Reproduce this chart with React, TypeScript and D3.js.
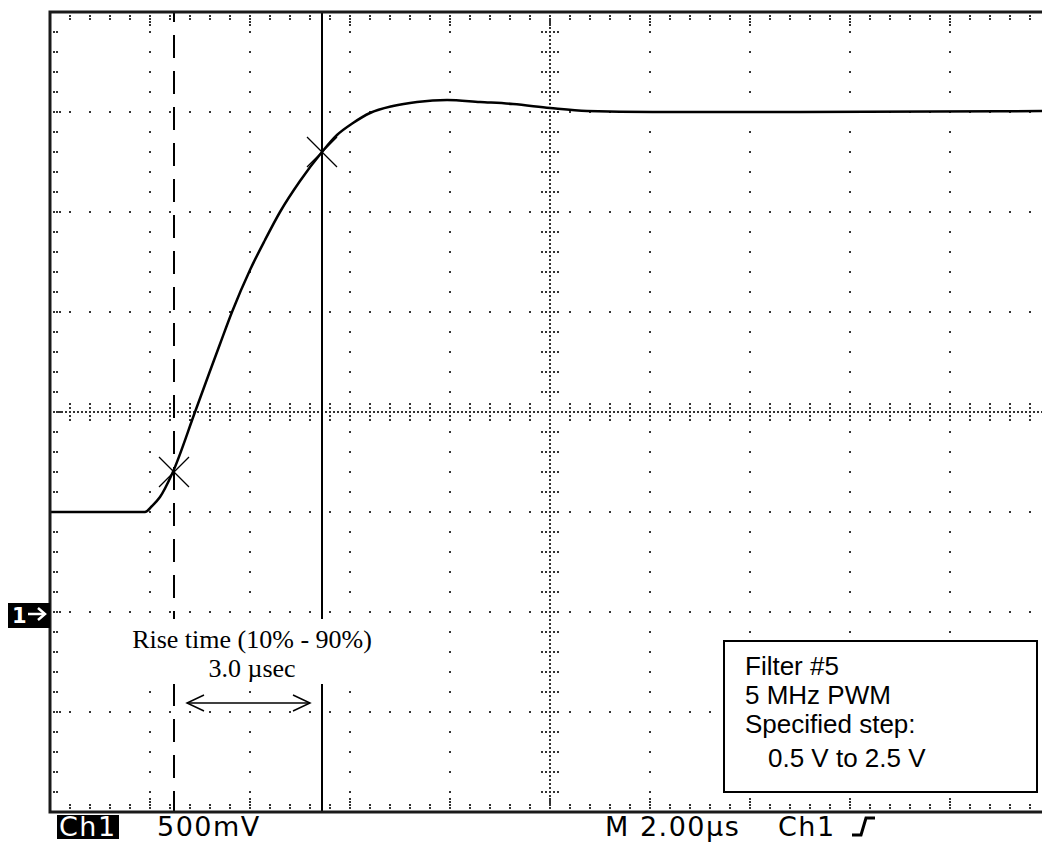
import React from "react";
import * as d3 from "d3";

const timeUs = [0, 1.9, 2.04, 2.2, 2.44, 2.9, 3.2, 3.4, 3.64, 4.0, 4.3, 4.6, 5.0, 5.44, 5.74, 6.06, 6.4, 6.86, 7.34, 7.94, 8.6, 9.26, 10.0, 10.74, 12.06, 15.0, 20.0];
const volts = [0.5, 0.5, 0.53, 0.575, 0.69, 1.0, 1.205, 1.34, 1.5, 1.71, 1.86, 2.0, 2.155, 2.3, 2.385, 2.445, 2.495, 2.53, 2.55, 2.56, 2.55, 2.54, 2.52, 2.505, 2.5, 2.5, 2.505];
const cursorTimes = [2.48, 5.44]; // 10% and 90% cursors (µs)
const cursorLevels = [0.7, 2.3]; // 10% and 90% levels (V)
const annotationLines = ["Rise time (10% - 90%)", "3.0 \u00b5sec"];
const legendLines = ["Filter #5", "5 MHz PWM", "Specified step:", "0.5 V to 2.5 V"];
const bottomLabels = ["Ch1", "500mV", "M 2.00\u00b5s", "Ch1"];

const W = 1042;
const H = 842;

export default function App() {
  const x = d3.scaleLinear().domain([0, 20]).range([50, 1050]);
  const y = d3.scaleLinear().domain([-1, 3]).range([812, 12]);

  const majorT = d3.range(0, 20.001, 2);
  const majorV = d3.range(-1, 3.001, 0.5);
  const minorT = d3.range(0, 20.001, 0.4);
  const minorV = d3.range(-1, 3.001, 0.1);
  const fineT = d3.range(0, 20.001, 0.08);
  const fineV = d3.range(-1, 3.001, 0.02);

  const dots: { cx: number; cy: number }[] = [];
  const add = (cx: number, cy: number) => dots.push({ cx, cy });

  majorT.slice(1, -1).forEach((t) => {
    if (t === 10) return;
    minorV.forEach((v) => add(x(t), y(v)));
  });
  majorV.slice(1, -1).forEach((v) => {
    if (v === 1) return;
    minorT.forEach((t) => add(x(t), y(v)));
  });
  fineV.forEach((v) => add(x(10), y(v)));
  fineT.forEach((t) => add(x(t), y(1)));
  minorV.forEach((v) => [-8, -4, 4, 8].forEach((o) => add(x(10) + o, y(v))));
  minorT.forEach((t) => [-8, -4, 4, 8].forEach((o) => add(x(t), y(1) + o)));
  minorT.forEach((t, i) => {
    const n = i % 5 === 0 ? 4 : 2;
    for (let k = 1; k <= n; k++) {
      add(x(t), y(3) + 1 + k * 3);
      add(x(t), y(-1) - 1 - k * 3);
    }
  });
  minorV.forEach((v, i) => {
    const n = i % 5 === 0 ? 3 : 2;
    for (let k = 1; k <= n; k++) add(x(0) + 1 + k * 3, y(v));
  });

  const line = d3
    .line<number>()
    .x((_, i) => x(timeUs[i]))
    .y((v) => y(v))
    .curve(d3.curveMonotoneX);

  const sans = "'Liberation Sans', Arial, sans-serif";
  const serif = "'Liberation Serif', 'Times New Roman', serif";
  const tek = "'DejaVu Sans', sans-serif";

  const xa = x(cursorTimes[0]);
  const xb = x(cursorTimes[1]);
  const arrowY = 703;

  const tekText = (s: string, tx: number, fill: string, key: string) => (
    <text key={key} x={tx} y={836} fontFamily={tek} fontSize={27} letterSpacing={1.5} fill={fill}>
      {s}
    </text>
  );

  return (
    <svg width={W} height={H} style={{ position: "absolute", left: 0, top: 0, background: "#fff" }}>
      <rect x={0} y={0} width={W} height={H} fill="#fff" />
      <g fill="#333">
        {dots.map((d, i) => (
          <rect key={i} x={d.cx - 1} y={d.cy - 1} width={2} height={2} />
        ))}
      </g>
      <line x1={xa} x2={xa} y1={y(3)} y2={y(-1)} stroke="#000" strokeWidth={2} strokeDasharray="23 13" strokeDashoffset={13} />
      <line x1={xb} x2={xb} y1={y(3)} y2={y(-1)} stroke="#000" strokeWidth={2} />
      <path d={line(volts) || ""} fill="none" stroke="#000" strokeWidth={2.5} />
      {cursorTimes.map((t, i) => (
        <g key={i} stroke="#000" strokeWidth={1.3}>
          <line x1={x(t) - 15} y1={y(cursorLevels[i]) - 15} x2={x(t) + 15} y2={y(cursorLevels[i]) + 15} />
          <line x1={x(t) - 15} y1={y(cursorLevels[i]) + 15} x2={x(t) + 15} y2={y(cursorLevels[i]) - 15} />
        </g>
      ))}
      <rect x={x(0)} y={y(3)} width={x(20) - x(0)} height={y(-1) - y(3)} fill="none" stroke="#1a1a1a" strokeWidth={3} />

      <rect x={126} y={619} width={254} height={65} fill="#fff" />
      {annotationLines.map((s, i) => (
        <text key={i} x={252} y={648 + i * 29} textAnchor="middle" fontFamily={serif} fontSize={26} fill="#000">
          {s}
        </text>
      ))}
      <g stroke="#000" strokeWidth={1.5} fill="none">
        <line x1={xa + 13} x2={xb - 12} y1={arrowY} y2={arrowY} />
        <path d={`M${xa + 30},${arrowY - 8} L${xa + 13},${arrowY} L${xa + 30},${arrowY + 8}`} />
        <path d={`M${xb - 29},${arrowY - 8} L${xb - 12},${arrowY} L${xb - 29},${arrowY + 8}`} />
      </g>

      <rect x={724} y={641} width={313} height={151} fill="#fff" stroke="#000" strokeWidth={2} />
      {legendLines.map((s, i) => (
        <text key={i} x={i === 3 ? 768 : 745} y={i === 3 ? 767 : 675 + i * 29} fontFamily={sans} fontSize={26} fill="#000">
          {s}
        </text>
      ))}

      <rect x={8} y={603} width={42} height={25} fill="#000" />
      <text x={12} y={623} fontFamily={tek} fontWeight="bold" fontSize={21} fill="#fff">1</text>
      <g stroke="#fff" strokeWidth={2.5} fill="none">
        <line x1={28} x2={44} y1={y(0) + 2} y2={y(0) + 2} />
        <path d={`M38,${y(0) - 4} L45,${y(0) + 2} L38,${y(0) + 8}`} />
      </g>

      <rect x={57} y={815} width={62} height={24} fill="#000" />
      {tekText(bottomLabels[0], 59, "#fff", "a")}
      {tekText(bottomLabels[1], 157, "#000", "b")}
      {tekText(bottomLabels[2], 605, "#000", "c")}
      {tekText(bottomLabels[3], 778, "#000", "d")}
      <path d="M852,835 H861 L866,818 H875" fill="none" stroke="#000" strokeWidth={3} />
    </svg>
  );
}
